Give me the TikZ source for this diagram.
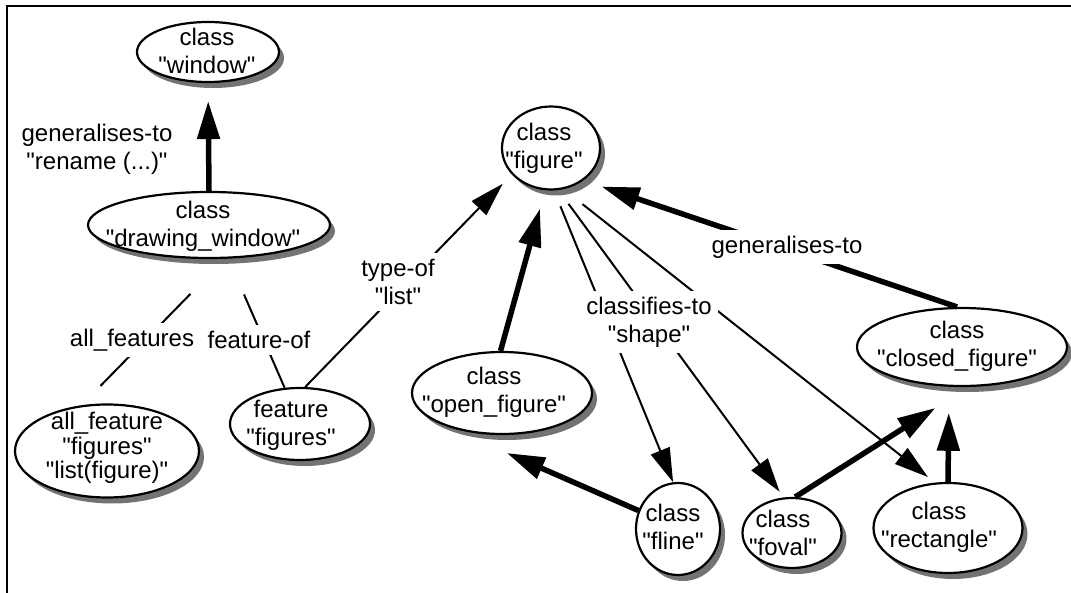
\documentclass[tikz,border=0pt]{standalone}
\usepackage{fontspec}
\setmainfont{Liberation Sans}[Ligatures=TeXOff]
\usetikzlibrary{arrows.meta,shapes.geometric,shadows}
\tikzset{
  oval/.style={ellipse, draw, line width=2.2pt, fill=white, inner sep=0pt,
    drop shadow={shadow xshift=5pt, shadow yshift=-6pt, fill=black!55, opacity=1}},
  txt/.style={align=center, inner sep=0pt, font=\fontsize{24}{28}\selectfont},
  lbl/.style={align=center, inner sep=6pt, fill=white, font=\fontsize{24}{28}\selectfont},
  thinline/.style={line width=2pt},
  thinarrow/.style={line width=2pt, -{Triangle[length=34pt,width=20pt]}},
  thickarrow/.style={line width=5.5pt, -{Triangle[length=38pt,width=22pt]}},
}
\begin{document}
\begin{tikzpicture}[x=1pt,y=-1pt]
\useasboundingbox (0,0) rectangle (1071,593);
\draw[line width=2.3pt] (1071,6) -- (7,6) -- (7,593);

% ellipses
\node[oval, minimum width=142pt, minimum height=60pt] (W)  at (208,52)  {};
\node[oval, minimum width=242pt, minimum height=66pt] (D)  at (209,225) {};
\node[oval, minimum width=184pt, minimum height=93pt] (AF) at (107,451) {};
\node[oval, minimum width=140pt, minimum height=72pt] (F)  at (300,424) {};
\node[oval, minimum width=98pt,  minimum height=83pt] (FG) at (551,148) {};
\node[oval, minimum width=180pt, minimum height=82pt] (OF) at (502,393) {};
\node[oval, minimum width=210pt, minimum height=78pt] (CF) at (962,347) {};
\node[oval, minimum width=84pt,  minimum height=92pt] (FL) at (678,529) {};
\node[oval, minimum width=99pt,  minimum height=70pt] (FO) at (792,533) {};
\node[oval, minimum width=149pt, minimum height=90pt] (R)  at (948,528) {};

% texts
\node[txt] (Wt)  at (207,51)  {class\\"window"};
\node[txt] (Dt)  at (203,226) {class\\"drawing\_window"};
\node[txt, font=\fontsize{24}{24.5}\selectfont] (AFt) at (107,448) {all\_feature\\"figures"\\"list(figure)"};
\node[txt] (Ft)  at (291,425) {feature\\"figures"};
\node[txt] (FGt) at (544,148) {class\\"figure"};
\node[txt] (OFt) at (494,392) {class\\"open\_figure"};
\node[txt] (CFt) at (957,346) {class\\"closed\_figure"};
\node[txt] (FLt) at (673,527) {class\\"fline"};
\node[txt] (FOt) at (783,533) {class\\"foval"};
\node[txt] (Rt)  at (939,527) {class\\"rectangle"};

% connectors
\draw[thickarrow, shorten >=18pt] (D.north) -- (W.south);
\draw[thinline, shorten <=49pt, shorten >=27pt] (D.-65.75) -- (AF.119.7);
\draw[thinline, shorten <=39pt] (D.-60.6) -- (F.113.1);
\draw[thinarrow, shorten >=13pt] (F.82.1) -- (FG.-146.7);
\draw[thickarrow, shorten >=19pt] (OF.92.8) -- (FG.-98);
\draw[thickarrow, shorten >=19pt] (CF.97.3) -- (FG.-45.5);
\draw[thinarrow, shorten <=17pt] (FG.-86.3) -- (FL.96.2);
\draw[thinarrow, shorten <=17pt, shorten >=7pt] (FG.-80.6) -- (FO.103);
\draw[thinarrow, shorten <=24pt, shorten >=9pt] (FG.-73) -- (R.106.2);
\draw[thickarrow, shorten >=72pt] (FL.155) -- (OF.-153);
\draw[thickarrow, shorten >=39pt] (FO.85) -- (CF.-81.8);
\draw[thickarrow, shorten >=26pt] (R.north) -- (CF.-108.6);

% connector labels
\node[lbl] (Lren) at (97,149)  {generalises-to\\"rename (...)"};
\node[lbl] (Lall) at (132,340) {all\_features};
\node[lbl] (Lfof) at (259,340) {feature-of};
\node[lbl] (Ltyp) at (398,282) {type-of\\"list"};
\node[lbl] (Lcls) at (649,322) {classifies-to\\"shape"};
\node[lbl] (Lgen) at (787,247) {generalises-to};
\end{tikzpicture}
\end{document}
